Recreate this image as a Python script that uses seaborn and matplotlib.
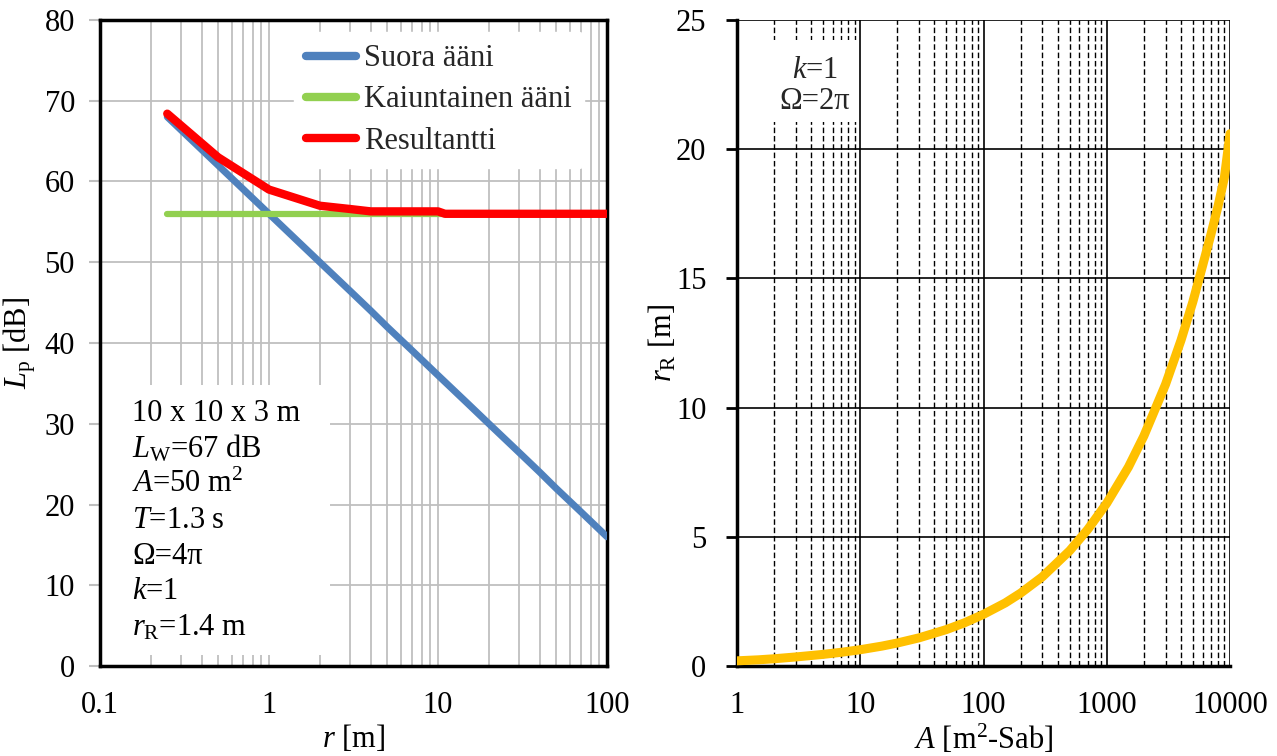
import numpy as np
import pandas as pd
import seaborn as sns
import matplotlib
matplotlib.use("Agg")
import matplotlib.pyplot as plt
from matplotlib.ticker import FixedLocator, FixedFormatter, NullFormatter, LogLocator
from matplotlib.patches import Rectangle

# left panel: sound pressure level vs distance
r_direct = [0.25, 0.5, 1, 2, 3, 4, 5, 7, 10, 15, 20, 30, 40, 50, 70, 100]
lp_direct = [68.0, 62.0, 56.0, 50.0, 46.5, 44.0, 42.0, 39.1, 36.0, 32.5, 30.0, 26.5, 24.0, 22.0, 19.1, 16.0]
r_reverb = [0.25, 1, 10, 100]
lp_reverb = [56.0, 56.0, 56.0, 56.0]
r_total = [0.25, 0.5, 1, 2, 3, 4, 10, 11, 100]
lp_total = [68.4, 63.0, 59.0, 57.0, 56.6, 56.3, 56.3, 56.0, 56.0]
series_names = ["Suora ääni", "Kaiuntainen ääni", "Resultantti"]
series_colors = ["#4F81BD", "#92D050", "#FF0000"]

info_lines = ["10 x 10 x 3 m", r"$L_\mathrm{W}$=67 dB", r"$A$=50 m$^2$", r"$T$=1.3 s",
              "Ω=4π", r"$k$=1", r"$r_\mathrm{R}$=1.4 m"]

# right panel: reverberation radius vs absorption area
area = [1, 1.5, 2, 3, 5, 7, 10, 15, 20, 30, 50, 70, 100, 150, 200, 300, 500, 700,
        1000, 1500, 2000, 3000, 4000, 5000, 6000, 7000, 8000, 9000, 10000]
r_rad = [0.20, 0.24, 0.28, 0.35, 0.45, 0.53, 0.63, 0.77, 0.89, 1.09, 1.41, 1.67, 2.0, 2.44,
         2.82, 3.45, 4.46, 5.28, 6.3, 7.7, 8.9, 10.9, 12.6, 14.1, 15.5, 16.7, 17.8, 18.9, 20.6]

sns.set_theme(style="white")
plt.rcParams["font.family"] = ["Liberation Serif", "DejaVu Serif"]
plt.rcParams["mathtext.fontset"] = "custom"
plt.rcParams["mathtext.rm"] = "Liberation Serif"
plt.rcParams["mathtext.it"] = "Liberation Serif:italic"
plt.rcParams["axes.unicode_minus"] = False

fs = 22
grid_gray = "#BFBFBF"
fig = plt.figure(figsize=(12.77, 7.56), dpi=100)
ax1 = fig.add_axes([100 / 1277, 90 / 756, 507 / 1277, 646 / 756])
ax2 = fig.add_axes([737 / 1277, 90 / 756, 493 / 1277, 646 / 756])

# ---- left
df_d = pd.DataFrame({"r": r_direct, "Lp": lp_direct})
df_r = pd.DataFrame({"r": r_reverb, "Lp": lp_reverb})
df_t = pd.DataFrame({"r": r_total, "Lp": lp_total})
for d, name, c, lw in zip([df_d, df_r, df_t], series_names, series_colors, [5, 4.5, 6]):
    sns.lineplot(data=d, x="r", y="Lp", ax=ax1, color=c, linewidth=lw, label=name,
                 estimator=None, sort=False, solid_capstyle="round", zorder=3)

ax1.set_xscale("log")
ax1.set_xlim(0.1, 100)
ax1.set_ylim(0, 80)
ax1.set_axisbelow(True)
ax1.xaxis.set_major_locator(FixedLocator([0.1, 1, 10, 100]))
ax1.xaxis.set_major_formatter(FixedFormatter(["0.1", "1", "10", "100"]))
ax1.xaxis.set_minor_locator(LogLocator(base=10, subs=np.arange(2, 10)))
ax1.xaxis.set_minor_formatter(NullFormatter())
ax1.set_yticks(range(0, 81, 10))
ax1.grid(True, which="major", axis="both", color=grid_gray, linewidth=1.3)
ax1.grid(True, which="minor", axis="x", color=grid_gray, linewidth=1.3)
ax1.tick_params(axis="x", which="major", direction="inout", length=20, width=2, labelsize=fs, pad=8,
                color="black", labelcolor="black")
ax1.tick_params(axis="x", which="minor", length=0)
ax1.tick_params(axis="y", which="major", direction="out", length=8, width=1.5, labelsize=fs, pad=10,
                left=True, color=grid_gray, labelcolor="black")
for s in ax1.spines.values():
    s.set_color("black")
    s.set_linewidth(2.5)
    s.set_visible(True)
ax1.set_xlabel(r"$r$ [m]", fontsize=fs, color="black")
ax1.set_ylabel(r"$L_\mathrm{p}$ [dB]", fontsize=fs, color="black")
ax1.xaxis.set_label_coords(0.5, -0.088)
ax1.yaxis.set_label_coords(-0.122, 0.5)

leg = ax1.legend(loc="upper left", bbox_to_anchor=(0.352, 1.005), fontsize=fs, frameon=True,
                 handlelength=1.65, handletextpad=0.25, labelspacing=0.4, borderpad=0.4)
leg.get_frame().set_facecolor("white")
leg.get_frame().set_edgecolor("white")
leg.get_frame().set_alpha(1)
for h in leg.get_lines():
    h.set_solid_capstyle("round")
    h.set_linewidth(6)

ax1.add_patch(Rectangle((0.0, 0.017), 0.454, 0.418, transform=ax1.transAxes,
                        facecolor="white", edgecolor="none", zorder=1.5))
for i, line in enumerate(info_lines):
    ax1.text(0.063, 0.391 - i * 0.0552, line, transform=ax1.transAxes, fontsize=fs,
             va="center", ha="left", color="black", zorder=4)

# ---- right
df_a = pd.DataFrame({"A": area, "rR": r_rad})
sns.lineplot(data=df_a, x="A", y="rR", ax=ax2, color="#FFC000", linewidth=6.5,
             estimator=None, sort=False, zorder=3)
ax2.set_xscale("log")
ax2.set_xlim(1, 10000)
ax2.set_ylim(0, 25)
ax2.set_axisbelow(True)
ax2.xaxis.set_major_locator(FixedLocator([1, 10, 100, 1000, 10000]))
ax2.xaxis.set_major_formatter(FixedFormatter(["1", "10", "100", "1000", "10000"]))
ax2.xaxis.set_minor_locator(LogLocator(base=10, subs=np.arange(2, 10)))
ax2.xaxis.set_minor_formatter(NullFormatter())
ax2.set_yticks(range(0, 26, 5))
ax2.grid(True, which="major", axis="both", color="black", linewidth=1.2)
ax2.grid(True, which="minor", axis="x", color="black", linewidth=1.0, linestyle=(0, (4, 2)))
ax2.tick_params(axis="x", which="major", direction="inout", length=20, width=2, labelsize=fs, pad=8,
                color="black", labelcolor="black")
ax2.tick_params(axis="x", which="minor", length=0)
ax2.tick_params(axis="y", which="major", direction="out", length=8, width=2, labelsize=fs, pad=14,
                left=True, color="black", labelcolor="black")
for side in ["left", "bottom"]:
    ax2.spines[side].set_color("black")
    ax2.spines[side].set_linewidth(2.5)
ax2.spines["top"].set_visible(False)
ax2.spines["right"].set_visible(False)
ax2.set_xlabel(r"$A$ [m$^2$-Sab]", fontsize=fs, color="black")
ax2.set_ylabel(r"$r_\mathrm{R}$ [m]", fontsize=fs, color="black")
ax2.xaxis.set_label_coords(0.5, -0.088)
ax2.yaxis.set_label_coords(-0.118, 0.5)

ax2.add_patch(Rectangle((0.067, 0.842), 0.178, 0.127, transform=ax2.transAxes,
                        facecolor="white", edgecolor="none", zorder=1.5))
ax2.text(0.158, 0.922, r"$k$=1", transform=ax2.transAxes, fontsize=fs, ha="center", va="center", zorder=4)
ax2.text(0.158, 0.874, "Ω=2π", transform=ax2.transAxes, fontsize=fs, ha="center", va="center", zorder=4)

fig.savefig("out.png", dpi=100, facecolor="white")
